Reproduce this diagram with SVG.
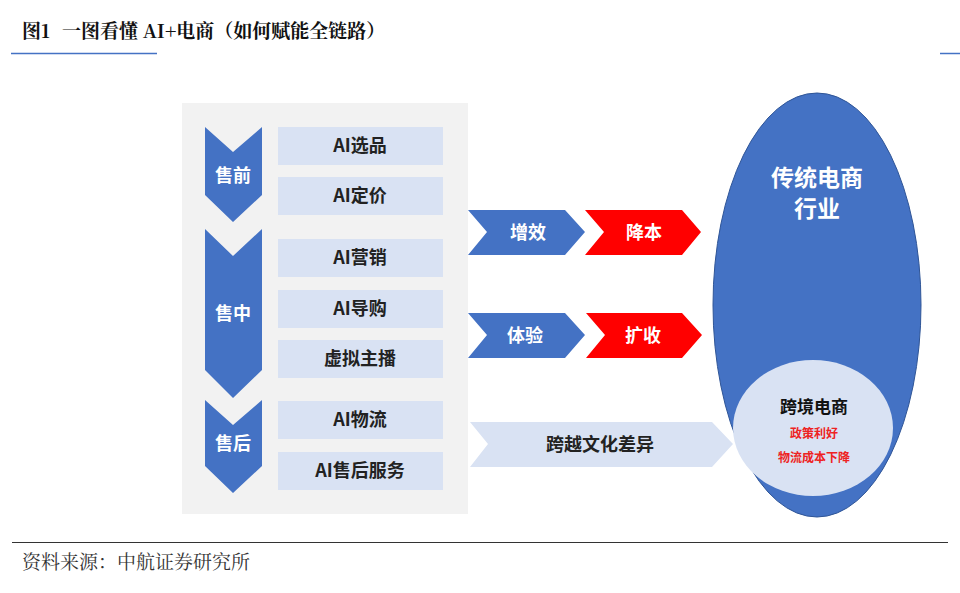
<svg xmlns="http://www.w3.org/2000/svg" width="960" height="593" viewBox="0 0 960 593">
<style>
.t{font-family:"Noto Sans CJK SC","Liberation Sans",sans-serif;font-weight:bold;text-anchor:middle}
.box{fill:#d9e2f3}
.blue{fill:#4472c4}
.red{fill:#ff0000}
.w{fill:#fff;font-size:18px}
.k{fill:#222;font-size:18px}
</style>
<rect width="960" height="593" fill="#fff"/>
<text x="22" y="38" style="font-family:'Noto Serif CJK SC','Liberation Serif','Noto Sans CJK SC',serif;font-weight:bold;font-size:19px" fill="#111"><tspan>图1</tspan><tspan x="62">一图看懂 AI+电商（如何赋能全链路）</tspan></text>
<line x1="11" y1="53.5" x2="157" y2="53.5" stroke="#4472c4" stroke-width="1.5"/>
<line x1="940" y1="53.5" x2="960" y2="53.5" stroke="#4472c4" stroke-width="1.5"/>
<line x1="12" y1="542.5" x2="948" y2="542.5" stroke="#333" stroke-width="1"/>
<text x="22" y="569" style="font-family:'Noto Serif CJK SC','Liberation Serif','Noto Sans CJK SC',serif;font-size:19px" fill="#333">资料来源：中航证券研究所</text>
<rect x="182" y="103" width="286" height="411" fill="#f2f2f2"/>
<g id="stage-pre"><polygon class="blue" points="205,127 233,152 262,127 262,195 233,222 205,195"/><text class="t w" x="233" y="182">售前</text></g>
<g id="stage-mid"><polygon class="blue" points="205,229 233,256 262,229 262,370 233,398 205,370"/><text class="t w" x="233" y="320">售中</text></g>
<g id="stage-post"><polygon class="blue" points="205,400 233,425 262,400 262,466 233,493 205,466"/><text class="t w" x="233" y="450">售后</text></g>
<g id="n1"><rect class="box" x="278" y="127" width="165" height="38"/><text class="t k" x="360" y="152">AI选品</text></g>
<g id="n2"><rect class="box" x="278" y="177" width="165" height="38"/><text class="t k" x="360" y="202">AI定价</text></g>
<g id="n3"><rect class="box" x="278" y="239" width="165" height="38"/><text class="t k" x="360" y="264">AI营销</text></g>
<g id="n4"><rect class="box" x="278" y="290" width="165" height="38"/><text class="t k" x="360" y="315">AI导购</text></g>
<g id="n5"><rect class="box" x="278" y="340" width="165" height="38"/><text class="t k" x="360" y="365">虚拟主播</text></g>
<g id="n6"><rect class="box" x="278" y="401" width="165" height="38"/><text class="t k" x="360" y="426">AI物流</text></g>
<g id="n7"><rect class="box" x="278" y="452" width="165" height="38"/><text class="t k" x="360" y="477">AI售后服务</text></g>
<g id="connectors">
<g id="a1"><polygon class="blue" points="468,210 565,210 585,232 565,255 468,255 487,232"/><text class="t w" x="528" y="239">增效</text></g>
<g id="a2"><polygon class="red" points="585,210 682,210 701,232 682,255 585,255 604,232"/><text class="t w" x="644" y="239">降本</text></g>
<g id="a3"><polygon class="blue" points="468,313 565,313 585,335 565,358 468,358 487,335"/><text class="t w" x="525" y="342">体验</text></g>
<g id="a4"><polygon class="red" points="586,313 682,313 702,335 682,358 586,358 605,335"/><text class="t w" x="643" y="342">扩收</text></g>
<g id="a5"><polygon fill="#d9e2f3" points="470,422 712,422 733,444 712,467 470,467 488,444"/><text class="t k" x="600" y="451">跨越文化差异</text></g>
</g>
<g id="industry"><ellipse cx="817" cy="305" rx="104" ry="212" class="blue" stroke="#2f5597" stroke-width="1"/>
<text class="t" x="817" y="186" fill="#fff" font-size="23">传统电商</text>
<text class="t" x="817" y="217" fill="#fff" font-size="23">行业</text></g>
<g id="crossborder"><ellipse cx="813" cy="428" rx="80" ry="68" fill="#d9e2f3"/>
<text class="t" x="814" y="413" fill="#111" font-size="17">跨境电商</text>
<text class="t" x="814" y="438" fill="#ee2222" font-size="12">政策利好</text>
<text class="t" x="814" y="462" fill="#ee2222" font-size="12">物流成本下降</text></g>
</svg>
